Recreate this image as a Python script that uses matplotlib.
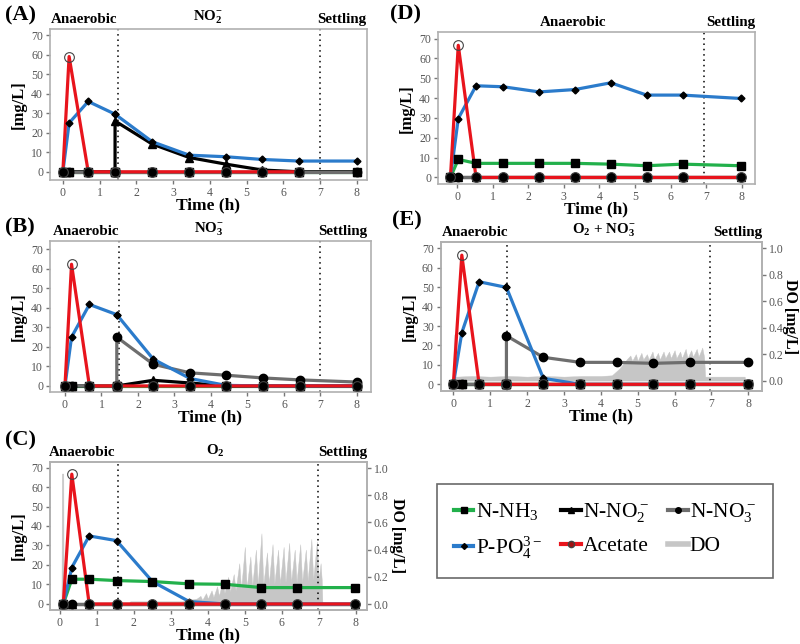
import numpy as np
import matplotlib.pyplot as plt
from matplotlib.lines import Line2D
import matplotlib.transforms as mtransforms

plt.rcParams['font.family'] = ['Liberation Serif', 'DejaVu Serif']
plt.rcParams['mathtext.fontset'] = 'custom'
plt.rcParams['mathtext.rm'] = 'Liberation Serif'
plt.rcParams['mathtext.it'] = 'Liberation Serif:italic'
plt.rcParams['mathtext.bf'] = 'Liberation Serif:bold'

GREEN = '#22b04b'
BLUE = '#2b7bcb'
RED = '#e8141c'
GRAY = '#6e6e6e'
DOGRAY = '#c6c6c6'
FRAME = '#b0b0b0'

# ---- panel A : NO2- ----
t_a = [0, 0.17, 0.69, 1.42, 1.42, 2.43, 3.44, 4.44, 5.43, 6.43, 8.0]
nh3_a = [0, 0, 0, 0, 0, 0, 0, 0, 0, 0, 0]
no2_a = [0, 0, 0, 0, 26, 14.2, 7.3, 3.9, 0.9, 0, 0]
no3_a = [0, 0, 0, 0, 0, 0, 0, 0, 0, 0, 0]
po4_a = [0, 25, 36, 29.5, 29.5, 15.4, 8.5, 7.7, 6.3, 5.5, 5.5]
ace_a = [0, 59, 0, 0, 0, 0, 0, 0, 0, 0, np.nan]

# ---- panel B : NO3- ----
t_b = [0, 0.18, 0.67, 1.42, 1.42, 2.42, 3.43, 4.41, 5.42, 6.43, 8.0]
nh3_b = [0, 0, 0, 0, 0, 0, 0, 0, 0, 0, 0]
no2_b = [0, 0, 0, 0, 0, 2.9, 1.5, 0, 0, 0, 0]
no3_b = [0, 0, 0, 0, 25, 11.1, 6.7, 5.5, 4.1, 3.1, 2.0]
po4_b = [0, 25, 41.7, 36.5, 36.5, 13.7, 3.8, 0.3, 0, 0, 0]
ace_b = [0, 62.3, 0, 0, 0, 0, 0, 0, 0, 0, 0]

# ---- panel C : O2 ----
t_c = [0.09, 0.32, 0.79, 1.53, 2.5, 3.5, 4.46, 5.45, 6.42, 7.97]
nh3_c = [0, 12.7, 12.7, 12.0, 11.5, 10.3, 10.1, 8.4, 8.4, 8.4]
no2_c = [0, 0, 0, 0, 0, 0, 0, 0, 0, 0]
no3_c = [0, 0, 0, 0, 0, 0, 0, 0, 0, 0]
po4_c = [0, 18.7, 34.9, 32.5, 11.5, 1.2, 0, 0, 0, 0]
ace_c = [0, 66.6, 0, 0, 0, 0, 0, 0, 0, 0]

do_c_t = [0.0, 0.04, 0.05, 0.09, 0.10, 1.85, 1.9, 3.3, 3.5, 3.7,
          3.80, 3.85, 3.95, 4.00, 4.10, 4.15, 4.25, 4.30, 4.40, 4.45,
          4.55, 4.60, 4.70, 4.75, 4.85, 4.90, 5.00, 5.05, 5.15, 5.20,
          5.30, 5.35, 5.45, 5.50, 5.60, 5.65, 5.75, 5.80, 5.90, 5.95,
          6.05, 6.10, 6.20, 6.25, 6.35, 6.40, 6.50, 6.55, 6.65, 6.70,
          6.80, 6.85, 6.95, 7.00, 7.05, 7.08, 7.10]
do_c_v = [0.0, 0.0, 0.96, 0.96, 0.0, 0.0, 0.02, 0.02, 0.03, 0.04,
          0.06, 0.03, 0.08, 0.04, 0.10, 0.05, 0.13, 0.06, 0.17, 0.08,
          0.20, 0.09, 0.22, 0.10, 0.30, 0.11, 0.42, 0.12, 0.35, 0.13,
          0.40, 0.14, 0.52, 0.14, 0.38, 0.15, 0.44, 0.15, 0.40, 0.15,
          0.42, 0.16, 0.45, 0.16, 0.40, 0.16, 0.44, 0.16, 0.40, 0.17,
          0.48, 0.18, 0.46, 0.18, 0.30, 0.18, 0.0]

# ---- panel D : anaerobic ----
t_d = [-0.19, 0.03, 0.53, 1.29, 2.31, 3.31, 4.32, 5.33, 6.34, 7.97]
nh3_d = [0, 9.1, 7.1, 7.1, 7.1, 7.1, 6.7, 5.9, 6.7, 5.9]
no2_d = [0, 0, 0, 0, 0, 0, 0, 0, 0, 0]
no3_d = [0, 0, 0, 0, 0, 0, 0, 0, 0, 0]
po4_d = [0, 29.7, 46.2, 45.7, 43.1, 44.3, 47.7, 41.5, 41.5, 39.8]
ace_d = [0, 66.6, 0, 0, 0, 0, 0, 0, 0, 0]

# ---- panel E : O2 + NO3- ----
t_e = [0, 0.23, 0.7, 1.44, 1.44, 2.44, 3.44, 4.43, 5.42, 6.42, 7.98]
nh3_e = [0, 0, 0, 0, 0, 0, 0, 0, 0, 0, 0]
no2_e = [0, 0, 0, 0, 0, 0, 0, 0, 0, 0, 0]
no3_e = [0, 0, 0, 0, 25, 13.9, 11.3, 11.3, 10.8, 11.3, 11.3]
po4_e = [0, 26.6, 52.8, 49.9, 49.9, 3.1, 0, 0, 0, 0, 0]
ace_e = [0, 66.5, 0, 0, 0, 0, 0, 0, 0, 0, 0]

do_e_t = [0.0, 0.01, 0.03, 0.08, 0.5, 1.0, 1.5, 2.0, 2.5, 3.0, 3.5, 4.0, 4.3, 4.5, 4.7,
          4.80, 4.85, 4.95, 5.00, 5.10, 5.15, 5.25, 5.30, 5.40, 5.45, 5.55, 5.60, 5.70, 5.75,
          5.85, 5.90, 6.00, 6.05, 6.15, 6.20, 6.30, 6.35, 6.45, 6.50, 6.60, 6.65, 6.75, 6.80,
          6.83, 7.3, 7.9, 7.92]
do_e_v = [0.0, 0.35, 0.03, 0.03, 0.035, 0.03, 0.035, 0.03, 0.035, 0.03, 0.035, 0.035, 0.04, 0.09, 0.16,
          0.19, 0.15, 0.20, 0.15, 0.21, 0.16, 0.20, 0.16, 0.22, 0.16, 0.21, 0.16, 0.22, 0.17,
          0.22, 0.17, 0.23, 0.17, 0.22, 0.17, 0.24, 0.17, 0.23, 0.18, 0.24, 0.18, 0.25, 0.18,
          0.03, 0.03, 0.03, 0.0]


def style(ax, xlim, ylim):
    ax.set_xlim(*xlim)
    ax.set_ylim(*ylim)
    ax.set_xticks(range(0, 9))
    ax.set_yticks(range(0, 71, 10))
    for s in ax.spines.values():
        s.set_color(FRAME)
        s.set_linewidth(1.2)
    ax.tick_params(direction='out', length=3, width=1, color='#777777',
                   labelcolor='#555555', labelsize=8.5, pad=2)
    ax.set_xlabel('Time (h)', fontsize=12.5, fontweight='bold', labelpad=-1)
    ax.set_ylabel('[mg/L]', fontsize=12, fontweight='bold', labelpad=3)


def draw(ax, t, nh3, no2, no3, po4, ace):
    lw = 2.3
    ax.plot(t, nh3, color=GREEN, lw=lw, zorder=2.0)
    ax.plot(t, no2, color='k', lw=lw, zorder=2.1)
    ax.plot(t, no3, color=GRAY, lw=lw, zorder=2.2)
    ax.plot(t, po4, color=BLUE, lw=lw, zorder=2.3)
    ax.plot(t, ace, color=RED, lw=lw, zorder=2.4)
    ax.plot(t, nh3, ls='none', marker='s', ms=5.5, color='k', zorder=3)
    ax.plot(t, no2, ls='none', marker='^', ms=6, color='k', zorder=3)
    ax.plot(t, no3, ls='none', marker='o', ms=6, color='k', zorder=3)
    ax.plot(t, po4, ls='none', marker='D', ms=3.5, color='k', zorder=3.5)
    ax.plot(t, ace, ls='none', marker='o', ms=7, mfc='none', mec='#444444',
            mew=0.8, zorder=4)


def phases(ax, items, lines):
    tr = mtransforms.blended_transform_factory(ax.transData, ax.transAxes)
    for x, s in items:
        ax.text(x, 1.02, s, transform=tr, ha='center', va='bottom',
                fontsize=10.8, fontweight='bold')
    for x in lines:
        ax.axvline(x, color='k', lw=1.1, ls=(0, (1, 2.5)), zorder=1.5)


def do_axis(ax, t, v, ylim, xlab):
    ax2 = ax.twinx()
    ax2.fill_between(t, 0, v, color=DOGRAY, lw=0.3, edgecolor=DOGRAY)
    ax2.set_ylim(*ylim)
    ax2.set_yticks([0.0, 0.2, 0.4, 0.6, 0.8, 1.0])
    ax2.set_yticklabels(['0.0', '0.2', '0.4', '0.6', '0.8', '1.0'])
    for s in ax2.spines.values():
        s.set_color(FRAME)
        s.set_linewidth(1.2)
    ax2.tick_params(direction='out', length=3, width=1, color='#777777',
                    labelcolor='#555555', labelsize=8.5, pad=2)
    lab = ax2.set_ylabel('DO [mg/L]', fontsize=11.5, fontweight='bold',
                         rotation=270, ha='center', va='center')
    ax2.yaxis.set_label_coords(xlab, 0.5)
    ax.set_zorder(ax2.get_zorder() + 1)
    ax.patch.set_visible(False)


fig = plt.figure(figsize=(8, 6.44), dpi=100)

axA = fig.add_axes([0.0625, 0.7205, 0.396, 0.2345])
axB = fig.add_axes([0.0625, 0.391, 0.401, 0.2345])
axC = fig.add_axes([0.0625, 0.0528, 0.396, 0.230])
axD = fig.add_axes([0.5475, 0.714, 0.396, 0.236])
axE = fig.add_axes([0.551, 0.393, 0.401, 0.231])

draw(axA, t_a, nh3_a, no2_a, no3_a, po4_a, ace_a)
style(axA, (-0.35, 8.27), (-4.2, 73.1))
phases(axA, [(0.57, 'Anaerobic'), (3.95, r'NO$_\mathbf{2}^\mathbf{-}$'), (7.6, 'Settling')], [1.5, 7.0])

draw(axB, t_b, nh3_b, no2_b, no3_b, po4_b, ace_b)
style(axB, (-0.41, 8.38), (-3.2, 74.1))
phases(axB, [(0.57, 'Anaerobic'), (3.95, r'NO$_\mathbf{3}^\mathbf{-}$'), (7.6, 'Settling')], [1.49, 6.99])

draw(axC, t_c, nh3_c, no2_c, no3_c, po4_c, ace_c)
style(axC, (-0.27, 8.3), (-3.1, 72.9))
phases(axC, [(0.59, 'Anaerobic'), (4.2, r'O$_\mathbf{2}$'), (7.65, 'Settling')], [1.58, 6.98])
do_axis(axC, do_c_t, do_c_v, (-0.044, 1.046), 1.095)

draw(axD, t_d, nh3_d, no2_d, no3_d, po4_d, ace_d)
style(axD, (-0.54, 8.37), (-3.4, 73.2))
phases(axD, [(3.26, 'Anaerobic'), (7.68, 'Settling')], [6.94])

draw(axE, t_e, nh3_e, no2_e, no3_e, po4_e, ace_e)
style(axE, (-0.34, 8.36), (-3.4, 73.2))
phases(axE, [(0.59, 'Anaerobic'), (4.07, r'O$_\mathbf{2}$ + NO$_\mathbf{3}^\mathbf{-}$'), (7.7, 'Settling')], [1.45, 6.97])
do_axis(axE, do_e_t, do_e_v, (-0.078, 1.048), 1.09)

for lab, x, y in [('(A)', 5, 15), ('(B)', 5, 227), ('(C)', 5, 440),
                  ('(D)', 390, 14), ('(E)', 392, 220)]:
    fig.text(x / 800, 1 - y / 644, lab, fontsize=16, fontweight='bold',
             ha='left', va='center')

handles = [
    Line2D([], [], color=GREEN, lw=3, marker='s', ms=4, mfc='k', mec='k'),
    Line2D([], [], color=BLUE, lw=3, marker='D', ms=3, mfc='k', mec='k'),
    Line2D([], [], color='k', lw=3, marker='^', ms=4, mfc='k', mec='k'),
    Line2D([], [], color=RED, lw=3, marker='o', ms=4.5, mfc='#a01010', mec='#444444'),
    Line2D([], [], color=GRAY, lw=3, marker='o', ms=4, mfc='k', mec='k'),
    Line2D([], [], color=DOGRAY, lw=4),
]
labels = ['N-NH$_3$', 'P-PO$_4^{3-}$', 'N-NO$_2^-$', 'Acetate', 'N-NO$_3^-$', 'DO']
leg = fig.legend(handles, labels, loc='center',
                 bbox_to_anchor=(0.546, 0.104, 0.42, 0.143),
                 bbox_transform=fig.transFigure, ncol=3, mode='expand',
                 fancybox=False, edgecolor='#444444', fontsize=15.5,
                 handlelength=0.9, handletextpad=0.1, labelspacing=0.55,
                 borderpad=0.8, borderaxespad=0, columnspacing=0.6)
leg.get_frame().set_linewidth(1.2)

plt.savefig('out.png', dpi=100)
